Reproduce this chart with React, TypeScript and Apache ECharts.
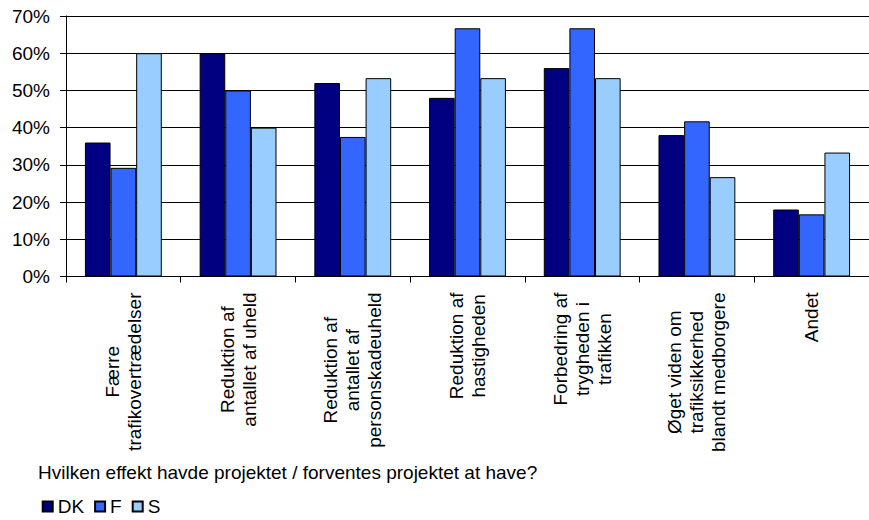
import React, { useEffect, useRef } from "react";
import * as echarts from "echarts";

const categories = [
  "Færre\ntrafikovertrædelser",
  "Reduktion af\nantallet af uheld",
  "Reduktion af\nantallet af\npersonskadeuheld",
  "Reduktion af\nhastigheden",
  "Forbedring af\ntrygheden i\ntrafikken",
  "Øget viden om\ntrafiksikkerhed\nblandt medborgere",
  "Andet",
];
const dkValues = [36, 60, 52, 48, 56, 38, 18];
const fValues = [29.2, 50, 37.5, 66.7, 66.7, 41.7, 16.7];
const sValues = [60, 40, 53.3, 53.3, 53.3, 26.7, 33.3];
const seriesNames = ["DK", "F", "S"];
const seriesColors = ["#000080", "#3366FF", "#99CCFF"];
const axisTitle = "Hvilken effekt havde projektet / forventes projektet at have?";

export default function App() {
  const ref = useRef<HTMLDivElement>(null);
  useEffect(() => {
    if (!ref.current) return;
    const chart = echarts.init(ref.current, null, { renderer: "svg" });
    const font = "Liberation Sans, Arial, sans-serif";
    const data = [dkValues, fValues, sValues];
    chart.setOption({
      animation: false,
      textStyle: { fontFamily: font },
      grid: { left: 66, right: 0, top: 16, bottom: 243.5 },
      title: {
        text: axisTitle,
        left: 33,
        top: 458,
        textStyle: { fontFamily: font, fontSize: 19, fontWeight: "normal", color: "#000" },
      },
      legend: {
        left: 36.7,
        top: 492,
        itemWidth: 10,
        itemHeight: 10,
        itemGap: 10,
        icon: "rect",
        textStyle: { fontFamily: font, fontSize: 19, lineHeight: 19, color: "#000" },
        data: seriesNames,
      },
      xAxis: {
        type: "category",
        data: categories,
        axisLine: { lineStyle: { color: "#000", width: 1 } },
        axisTick: { show: true, length: 6, alignWithLabel: false, lineStyle: { color: "#000" } },
        axisLabel: {
          rotate: 90,
          margin: 16,
          interval: 0,
          fontFamily: font,
          fontSize: 19,
          lineHeight: 22,
          color: "#000",
          formatter: (v: string) =>
            v
              .split("\n")
              .map((l) => `{c|${l}}`)
              .join("\n"),
          rich: { c: { align: "center", fontSize: 19, lineHeight: 22, fontFamily: font, color: "#000" } },
        },
      },
      yAxis: {
        type: "value",
        min: 0,
        max: 70,
        interval: 10,
        axisLine: { show: true, lineStyle: { color: "#000", width: 1 } },
        axisTick: { show: true, inside: false, length: 6, lineStyle: { color: "#000" } },
        splitLine: { show: true, lineStyle: { color: "#000", width: 1 } },
        axisLabel: {
          margin: 16,
          fontFamily: font,
          fontSize: 19,
          color: "#000",
          formatter: (v: number) => `${v}%`,
        },
      },
      series: data.map((vals, i) => ({
        name: seriesNames[i],
        type: "bar",
        data: vals,
        barGap: "0%",
        barCategoryGap: "33%",
        itemStyle: { color: seriesColors[i], borderColor: "#000", borderWidth: 1 },
      })),
    });
    return () => chart.dispose();
  }, []);
  return <div ref={ref} style={{ width: 869, height: 520, position: "absolute", left: 0, top: 0 }} />;
}
